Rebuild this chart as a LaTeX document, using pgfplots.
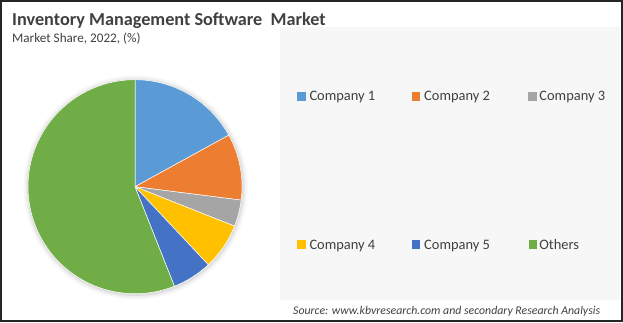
\documentclass[border=0pt]{standalone}
\usepackage{pgfplots}
\pgfplotsset{compat=1.18}
\usepackage{fontspec}
\setmainfont{Carlito}
\definecolor{c1}{HTML}{5B9BD5}
\definecolor{c2}{HTML}{ED7D31}
\definecolor{c3}{HTML}{A5A5A5}
\definecolor{c4}{HTML}{FFC000}
\definecolor{c5}{HTML}{4472C4}
\definecolor{c6}{HTML}{70AD47}
\definecolor{txt}{HTML}{404040}
% market shares (%)
\def\sA{17}\def\sB{10}\def\sC{4}\def\sD{7}\def\sE{6}\def\sF{56}
\begin{document}
\begin{tikzpicture}[x=1bp,y=1bp,
  leg/.style={anchor=base west, inner sep=0, text=txt, font=\fontsize{14.5}{17}\selectfont}]
\pgfmathsetmacro\tA{90-3.6*\sA}
\pgfmathsetmacro\tB{\tA-3.6*\sB}
\pgfmathsetmacro\tC{\tB-3.6*\sC}
\pgfmathsetmacro\tD{\tC-3.6*\sD}
\pgfmathsetmacro\tE{\tD-3.6*\sE}
\pgfmathsetmacro\tF{\tE-3.6*\sF}
\fill[white] (0,0) rectangle (623,322);
\fill[black!3] (280,22) rectangle (620,295);
% soft shadow
\fill[black,opacity=0.03] (135.5,134.5) circle[radius=112];
\fill[black,opacity=0.04] (135.5,134.5) circle[radius=110];
\fill[black,opacity=0.05] (135.5,134.5) circle[radius=108.5];
\begin{axis}[at={(135bp,135.3bp)}, anchor=center, x=107bp, y=107bp,
  xmin=-1.1, xmax=1.1, ymin=-1.1, ymax=1.1, hide axis, clip=false]
\addplot[fill=c1, draw=white, line width=0.5bp, domain=\tA:90, samples=60, data cs=polar] ({x},{1}) -- (axis cs:0,0) -- cycle;
\addplot[fill=c2, draw=white, line width=0.5bp, domain=\tB:\tA, samples=40, data cs=polar] ({x},{1}) -- (axis cs:0,0) -- cycle;
\addplot[fill=c3, draw=white, line width=0.5bp, domain=\tC:\tB, samples=20, data cs=polar] ({x},{1}) -- (axis cs:0,0) -- cycle;
\addplot[fill=c4, draw=white, line width=0.5bp, domain=\tD:\tC, samples=30, data cs=polar] ({x},{1}) -- (axis cs:0,0) -- cycle;
\addplot[fill=c5, draw=white, line width=0.5bp, domain=\tE:\tD, samples=30, data cs=polar] ({x},{1}) -- (axis cs:0,0) -- cycle;
\addplot[fill=c6, draw=white, line width=0.5bp, domain=\tF:\tE, samples=150, data cs=polar] ({x},{1}) -- (axis cs:0,0) -- cycle;
\end{axis}
% titles
\node[anchor=base west, inner sep=0, text=txt, font=\fontsize{18.3}{21}\selectfont\bfseries] at (12,297) {Inventory Management Software\ \ Market};
\node[anchor=base west, inner sep=0, text=txt, font=\fontsize{13.2}{15}\selectfont] at (12,279.7) {Market Share, 2022, (\%)};
% legend
\fill[c1] (297,221.5) rectangle ++(8.5,8.5);
\node[leg] at (309.3,221.3) {Company 1};
\fill[c2] (411.5,221.5) rectangle ++(8.5,8.5);
\node[leg] at (424,221.3) {Company 2};
\fill[c3] (528,221.5) rectangle ++(8.5,8.5);
\node[leg] at (539.2,221.3) {Company 3};
\fill[c4] (297,73.5) rectangle ++(8.5,8.5);
\node[leg] at (309.3,73) {Company 4};
\fill[c5] (411.5,73.5) rectangle ++(8.5,8.5);
\node[leg] at (424,73) {Company 5};
\fill[c6] (528.5,73.5) rectangle ++(8.5,8.5);
\node[leg] at (539.2,73) {Others};
\node[anchor=base west, inner sep=0, text=txt, font=\fontsize{11.85}{13}\selectfont\itshape] at (293,7.5) {Source: www.kbvresearch.com and secondary Research Analysis};
% frame
\draw[line width=2bp, black!85] (1,1) rectangle (622,321);
\end{tikzpicture}
\end{document}
